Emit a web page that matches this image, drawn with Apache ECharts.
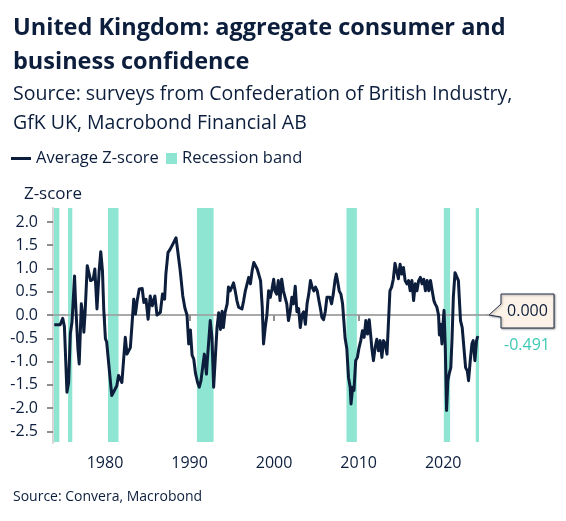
<!DOCTYPE html>
<html>
<head>
<meta charset="utf-8">
<script src="https://cdn.jsdelivr.net/npm/echarts@6/dist/echarts.min.js"></script>
<style>
html,body{margin:0;padding:0;background:#fff;}
#chart{width:566px;height:521px;}
</style>
</head>
<body>
<div id="chart"></div>
<script>
// ---- Data ----
const titleText = 'United Kingdom: aggregate consumer and\nbusiness confidence';
const subtitleText = 'Source: surveys from Confederation of British Industry,\nGfK UK, Macrobond Financial AB';
const footerText = 'Source: Convera, Macrobond';
const seriesName = 'Average Z-score';
const bandName = 'Recession band';
const xTickYears = [1980, 1990, 2000, 2010, 2020];
const yTickValues = [-2.5, -2.0, -1.5, -1.0, -0.5, 0.0, 0.5, 1.0, 1.5, 2.0];
const recessionStarts = [1973.75, 1975.63, 1980.35, 1990.87, 2008.56, 2020.07, 2023.85];
const recessionEnds   = [1974.6, 1976.13, 1981.6, 1992.84, 2009.79, 2020.82, 2024.24];
const years = [
1974.0,1974.7,1975.0,1975.2,1975.5,1975.7,1975.9,1976.1,1976.4,1976.5,1976.8,1976.95,1977.2,1977.4,1977.5,1977.65,1977.9,1978.1,1978.3,1978.6,1978.8,1979.05,1979.3,1979.5,1979.7,1979.85,
1980.05,1980.2,1980.5,1980.8,1981.0,1981.4,1981.6,1981.8,1982.0,1982.4,1982.6,1983.0,1983.2,1983.4,1983.6,1983.8,1984.05,1984.4,1984.6,1984.85,1985.1,1985.35,1985.6,1985.9,1986.15,1986.55,1986.8,1987.05,1987.2,1987.45,1987.7,1987.9,1988.1,1988.4,1988.55,1988.9,1989.2,1989.45,1989.7,1989.9,
1990.1,1990.3,1990.5,1990.7,1990.95,1991.15,1991.35,1991.55,1991.75,1992.0,1992.1,1992.45,1992.65,1992.85,1993.05,1993.25,1993.45,1993.65,1993.85,1994.0,1994.2,1994.45,1994.6,1994.8,1995.05,1995.2,1995.4,1995.6,1995.8,1996.2,1996.4,1996.6,1996.8,1997.0,1997.2,1997.4,1997.6,1997.8,1998.0,1998.2,1998.4,1998.6,1998.75,1998.95,1999.15,1999.35,1999.55,1999.75,1999.95,
2000.1,2000.3,2000.5,2000.7,2000.9,2001.1,2001.3,2001.5,2001.7,2001.9,2002.1,2002.3,2002.5,2002.7,2002.9,2003.1,2003.3,2003.5,2003.7,2003.9,2004.1,2004.3,2004.5,2004.7,2004.9,2005.1,2005.3,2005.45,2005.65,2005.85,2006.05,2006.25,2006.4,2006.6,2006.8,2007.0,2007.2,2007.35,2007.5,2007.7,2007.9,2008.1,2008.2,2008.4,2008.6,2008.8,2009.0,2009.1,2009.3,2009.45,2009.65,2009.85,
2010.05,2010.25,2010.45,2010.65,2010.85,2011.05,2011.25,2011.45,2011.55,2011.75,2011.95,2012.15,2012.35,2012.55,2012.75,2012.95,2013.15,2013.35,2013.5,2013.7,2013.9,2014.1,2014.3,2014.5,2014.7,2014.9,2015.1,2015.3,2015.5,2015.7,2015.9,2016.1,2016.3,2016.5,2016.7,2016.9,2017.1,2017.3,2017.5,2017.7,2017.9,2018.1,2018.3,2018.5,2018.7,2018.9,2019.05,2019.25,2019.45,2019.55,2019.7,2019.85,
2020.0,2020.1,2020.25,2020.4,2020.55,2020.7,2020.9,2021.05,2021.2,2021.4,2021.6,2021.8,2021.9,2022.05,2022.25,2022.45,2022.65,2022.85,2023.0,2023.2,2023.4,2023.55,2023.75,2023.95,2024.05,2024.2
];
const zScores = [
-0.21,-0.21,-0.07,-0.25,-1.66,-1.45,-0.4,-0.15,0.84,0.35,-0.73,-1.05,0.24,-0.05,-0.37,0.06,1.06,1.1,0.74,0.77,0.99,0.13,0.92,1.36,0.95,0.13,
-0.51,-0.58,-1.16,-1.73,-1.66,-1.52,-1.3,-1.34,-1.45,-0.48,-0.84,-0.7,-0.19,0.34,0.02,0.3,0.56,0.57,0.27,0.34,-0.09,0.41,0.2,0.41,0.0,0.06,0.45,0.34,0.88,1.34,1.41,1.48,1.55,1.66,1.45,0.95,0.41,0.15,0.0,-0.62,
-0.32,-0.86,-0.95,-1.25,-1.45,-1.55,-1.41,-1.37,-0.84,-1.27,-0.98,-0.12,-0.48,-1.55,-0.91,-0.27,0.05,-0.31,0.08,-0.27,0.05,0.24,0.6,0.52,0.62,0.69,0.52,0.31,0.17,0.13,0.31,0.52,0.52,0.81,0.67,0.95,1.13,1.06,0.99,0.99,0.74,0.17,-0.62,-0.27,0.0,0.52,0.38,0.56,0.77,
0.52,0.45,0.74,0.31,0.77,0.52,0.52,0.24,-0.12,0.07,0.38,0.24,0.62,0.07,0.14,-0.27,0.0,0.07,-0.2,0.24,0.45,0.74,0.6,0.52,0.6,0.52,0.31,0.17,-0.05,-0.1,0.07,0.38,0.41,0.38,0.24,0.45,0.74,0.88,0.74,0.52,0.45,0.24,0.0,-0.5,-0.72,-1.34,-1.55,-1.91,-1.55,-1.62,-0.98,-0.91,
-0.7,-0.55,-0.34,-0.48,-0.12,-0.41,-0.1,-0.48,-0.7,-0.98,-0.7,-0.52,-0.77,-0.55,-0.91,-0.55,-0.62,-0.84,-0.27,0.52,0.6,0.77,1.11,1.11,0.78,1.09,0.88,1.02,0.74,0.67,0.74,0.52,0.74,0.31,0.67,0.52,0.74,0.81,0.67,0.77,0.52,0.74,0.52,0.74,0.52,0.31,0.24,0.17,0.0,-0.43,-0.2,-0.62,
-0.14,0.1,-0.7,-2.05,-1.41,-1.27,-1.13,-0.5,0.38,0.91,0.95,0.74,0.38,-0.12,-0.27,-0.7,-1.13,-1.2,-1.41,-0.98,-0.62,-0.55,-0.98,-0.55,-0.48,-0.491
];
const refLineValue = 0;

// ---- Style ----
const FONT = '"Open Sans", "Noto Sans", sans-serif';
const NAVY = '#0c1e3c';
const TEAL_BAND = '#8ee5d1';
const TEAL_TEXT = '#3ec9b6';
const X_MIN = 1973.85, X_MAX = 2025.3, Y_MIN = -2.75, Y_MAX = 2.3;

const lineData = years.map((y, i) => [y, zScores[i]]);
const bandData = recessionStarts.map((s, i) => [s, recessionEnds[i]]);

const chart = echarts.init(document.getElementById('chart'), null, {renderer: 'canvas'});
const option = {
  animation: false,
  textStyle: {fontFamily: FONT, color: NAVY},
  title: {
    text: titleText,
    subtext: subtitleText,
    left: 8, top: 6,
    itemGap: 1,
    textStyle: {fontFamily: FONT, fontSize: 23.5, fontWeight: 'bold', color: NAVY, lineHeight: 34},
    subtextStyle: {fontFamily: FONT, fontSize: 19.5, color: NAVY, lineHeight: 29}
  },
  legend: [{
    left: 11, top: 150, padding: 0,
    data: [{name: seriesName, icon: 'rect'}],
    itemWidth: 20, itemHeight: 3,
    textStyle: {fontFamily: FONT, fontSize: 16.5, color: NAVY},
    selectedMode: false
  }, {
    left: 166, top: 150, padding: 0,
    data: [{name: bandName, icon: 'rect'}],
    itemWidth: 11, itemHeight: 11,
    textStyle: {fontFamily: FONT, fontSize: 16.5, color: NAVY},
    selectedMode: false
  }],
  grid: {left: 53, right: 78, top: 208, bottom: 78, containLabel: false},
  xAxis: {
    type: 'value', min: X_MIN, max: X_MAX,
    axisLine: {show: true, lineStyle: {color: '#d6d6d6', width: 2}},
    axisTick: {show: true, customValues: xTickYears, length: 6, lineStyle: {color: '#6b6b6b', width: 1.5}},
    axisLabel: {show: true, customValues: xTickYears, margin: 12, fontSize: 16, fontFamily: FONT, color: NAVY,
      formatter: v => String(Math.round(v))},
    splitLine: {show: false}
  },
  yAxis: {
    type: 'value', min: Y_MIN, max: Y_MAX,
    name: 'Z-score', nameLocation: 'end', nameGap: 5,
    nameTextStyle: {fontFamily: FONT, fontSize: 17, color: NAVY, align: 'center'},
    axisLine: {show: true, lineStyle: {color: '#d6d6d6', width: 2}},
    axisTick: {show: true, customValues: yTickValues, length: 6, lineStyle: {color: '#6b6b6b', width: 1.5}},
    axisLabel: {show: true, customValues: yTickValues, margin: 15, fontSize: 16, fontFamily: FONT, color: NAVY,
      formatter: v => v.toFixed(1)},
    splitLine: {show: false}
  },
  series: [{
    name: bandName,
    type: 'custom',
    z: 1,
    itemStyle: {color: TEAL_BAND},
    encode: {x: [0, 1]},
    data: bandData,
    renderItem: function (params, api) {
      const p0 = api.coord([api.value(0), Y_MAX]);
      const p1 = api.coord([api.value(1), Y_MIN]);
      const cs = params.coordSys;
      const shape = echarts.graphic.clipRectByRect(
        {x: p0[0], y: p0[1], width: p1[0] - p0[0], height: p1[1] - p0[1]},
        {x: cs.x + 1, y: cs.y, width: cs.width - 1, height: cs.height - 1});
      return shape && {type: 'rect', shape: shape, style: {fill: TEAL_BAND}};
    }
  }, {
    name: seriesName,
    type: 'line',
    z: 3,
    data: lineData,
    showSymbol: false,
    symbol: 'none',
    itemStyle: {color: NAVY},
    lineStyle: {color: NAVY, width: 3, join: 'round'},
    markLine: {
      silent: true, symbol: 'none', z: 2,
      label: {show: false},
      lineStyle: {color: '#9a9a9a', width: 1.5, type: 'solid'},
      data: [{yAxis: refLineValue}]
    }
  }]
};
chart.setOption(option);

// ---- Annotation box for the reference line and last value ----
const end = chart.convertToPixel({gridIndex: 0}, [X_MAX, refLineValue]);
const ex = end[0], ey = end[1];
const lastVal = zScores[zScores.length - 1];
chart.setOption({
  graphic: [{
    type: 'polygon',
    shape: {points: [
      [ex + 1, ey], [ex + 13, ey - 11], [ex + 13, ey - 21], [ex + 66, ey - 21],
      [ex + 66, ey + 13], [ex + 13, ey + 13], [ex + 13, ey + 2]
    ]},
    style: {fill: '#fdf2e7', stroke: '#1c2b45', lineWidth: 1,
      shadowBlur: 2, shadowOffsetX: 1, shadowOffsetY: 1, shadowColor: 'rgba(0,0,0,0.35)'},
    z: 10
  }, {
    type: 'line',
    shape: {x1: ex - 2, y1: ey, x2: ex + 2, y2: ey},
    style: {stroke: '#9a9a9a', lineWidth: 1.5}, z: 9
  }, {
    type: 'text',
    x: ex + 39.5, y: ey - 4,
    style: {text: refLineValue.toFixed(3), fontFamily: FONT, fontSize: 16, fill: NAVY,
      align: 'center', verticalAlign: 'middle'},
    z: 11
  }, {
    type: 'text',
    x: ex + 39, y: ey + 30,
    style: {text: lastVal.toFixed(3), fontFamily: FONT, fontSize: 16, fill: TEAL_TEXT,
      align: 'center', verticalAlign: 'middle'},
    z: 11
  }, {
    type: 'text',
    left: 13, top: 490,
    style: {text: footerText, fontFamily: FONT, fontSize: 14, fill: NAVY},
    z: 11
  }]
});
</script>
</body>
</html>
